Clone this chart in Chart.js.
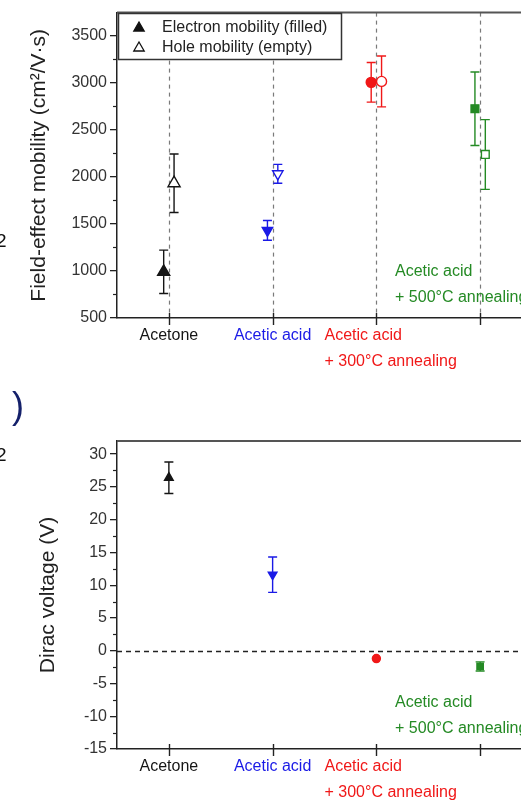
<!DOCTYPE html>
<html>
<head>
<meta charset="utf-8">
<script src="https://cdn.jsdelivr.net/npm/chart.js@4.4.1/dist/chart.umd.min.js"></script>
<style>
  html, body { margin: 0; padding: 0; background: #fff; overflow: hidden; }
  #wrap { position: relative; width: 521px; height: 803px; overflow: hidden; }
  canvas { position: absolute; left: 0; }
  #mobility { top: 0; }
  #dirac { top: 400px; }
  .edge { position: absolute; font-family: 'Liberation Sans', Arial, sans-serif; line-height: 1; }
</style>
</head>
<body>
<div id="wrap">
  <canvas id="mobility" width="545" height="375"></canvas>
  <canvas id="dirac" width="545" height="403"></canvas>
  <span class="edge" style="left:-4px; top:231px; font-size:19px; color:#111;">2</span>
  <span class="edge" style="left:-4px; top:445px; font-size:19px; color:#111;">2</span>
  <span class="edge" style="left:12px; top:388px; font-size:36px; color:#14206a;">)</span>
</div>
<script>
// categories along the x axis (one entry per line of the label)
const categories = [
    ['Acetone'],
    ['Acetic acid'],
    ['Acetic acid', '+ 300°C annealing'],
    ['Acetic acid', '+ 500°C annealing']
];
const categoryColors = ['#151515', '#1a1ae6', '#f01818', '#248a24'];

// field-effect mobility, cm2/V.s
const electronMobility = [990, 1430, 3000, 2720];
const electronErr = [230, 105, 210, 390];
const holeMobility = [1930, 2030, 3010, 2235];
const holeErr = [310, 100, 270, 370];

// dirac voltage, V
const diracVoltage = [26.4, 11.6, -1.2, -2.4];
const diracErr = [2.4, 2.7, 0, 0.7];

// tick labels
const mobilityTicks = [500, 1000, 1500, 2000, 2500, 3000, 3500];
const diracTicks = [-15, -10, -5, 0, 5, 10, 15, 20, 25, 30];

const FONT = "'Liberation Sans', Arial, sans-serif";
const markerStyles = ['triangle', 'triangle', 'circle', 'rect'];
const markerRotation = [0, 180, 0, 0];

// where each category label sits (x in axis units, dy from the x axis)
const labelPlace = [
    { x: 1, align: 'center', dy: 18 },
    { x: 2, align: 'center', dy: 18 },
    { x: 2.5, align: 'left', dy: 18 },
    { x: 3.18, align: 'left', dy: -46 }
];

Chart.defaults.font.family = FONT;
Chart.defaults.animation = false;

/**
 * Draws the extras: error bars, category ticks/labels, minor ticks,
 * dashed guides, top frame and the legend box
 */
const figurePlugin = {
    id: 'figure',
    beforeDatasetsDraw(chart, args, opts) {
        const { ctx, chartArea: area, scales: { x, y } } = chart;
        ctx.save();

        if (opts.vLines) {
            ctx.strokeStyle = '#7a7a7a';
            ctx.lineWidth = 1.2;
            ctx.setLineDash([4, 4]);
            categories.forEach((c, i) => {
                const px = Math.round(x.getPixelForValue(i + 1)) + 0.5;
                ctx.beginPath();
                ctx.moveTo(px, area.top);
                ctx.lineTo(px, area.bottom);
                ctx.stroke();
            });
        }

        if (opts.zeroLine) {
            const py = Math.round(y.getPixelForValue(0)) + 0.5;
            ctx.strokeStyle = '#222';
            ctx.lineWidth = 1.5;
            ctx.setLineDash([5, 4]);
            ctx.beginPath();
            ctx.moveTo(area.left, py);
            ctx.lineTo(area.right, py);
            ctx.stroke();
        }
        ctx.setLineDash([]);

        // error bars
        chart.data.datasets.forEach(ds => {
            if (!ds.errors) return;
            ds.data.forEach((pt, i) => {
                const err = ds.errors[i];
                if (!err) return;
                const px = x.getPixelForValue(pt.x);
                const top = y.getPixelForValue(pt.y + err);
                const bot = y.getPixelForValue(pt.y - err);
                ctx.strokeStyle = categoryColors[i];
                ctx.lineWidth = 1.4;
                ctx.beginPath();
                ctx.moveTo(px, top);
                ctx.lineTo(px, bot);
                ctx.moveTo(px - 4.5, top);
                ctx.lineTo(px + 4.5, top);
                ctx.moveTo(px - 4.5, bot);
                ctx.lineTo(px + 4.5, bot);
                ctx.stroke();
            });
        });
        ctx.restore();
    },
    afterDatasetsDraw(chart, args, opts) {
        const { ctx, chartArea: area, scales: { x, y } } = chart;
        ctx.save();

        // top frame
        ctx.strokeStyle = '#555';
        ctx.lineWidth = 2;
        ctx.beginPath();
        ctx.moveTo(area.left, area.top);
        ctx.lineTo(area.right, area.top);
        ctx.stroke();

        // minor ticks on y
        ctx.strokeStyle = '#222';
        ctx.lineWidth = 1.2;
        for (let v = y.min; v <= y.max; v += opts.minorStep) {
            if (Math.abs(v / opts.minorStep) % 2 !== 1) continue;
            const py = Math.round(y.getPixelForValue(v)) + 0.5;
            ctx.beginPath();
            ctx.moveTo(area.left - 4, py);
            ctx.lineTo(area.left, py);
            ctx.stroke();
        }

        // category ticks crossing the x axis
        ctx.lineWidth = 1.4;
        categories.forEach((c, i) => {
            const px = Math.round(x.getPixelForValue(i + 1)) + 0.5;
            ctx.beginPath();
            ctx.moveTo(px, area.bottom - 5);
            ctx.lineTo(px, area.bottom + 7);
            ctx.stroke();
        });

        // category labels
        ctx.font = '16px ' + FONT;
        ctx.textBaseline = 'middle';
        categories.forEach((lines, i) => {
            const place = labelPlace[i];
            ctx.fillStyle = categoryColors[i];
            ctx.textAlign = place.align;
            lines.forEach((line, k) => {
                ctx.fillText(line, x.getPixelForValue(place.x), area.bottom + place.dy + k * 26);
            });
        });

        // legend box
        if (opts.legend) {
            const bx = area.left + 1, by = 13, bw = 223, bh = 46;
            ctx.fillStyle = '#fff';
            ctx.fillRect(bx, by, bw, bh);
            ctx.strokeStyle = '#333';
            ctx.lineWidth = 1.5;
            ctx.strokeRect(bx + 0.5, by + 0.5, bw, bh);

            chart.data.datasets.forEach((ds, k) => {
                const cy = by + 15 + k * 20;
                const cx = bx + 21;
                const r = 6;
                ctx.beginPath();
                ctx.moveTo(cx, cy - r);
                ctx.lineTo(cx + r * 0.866, cy + r * 0.5);
                ctx.lineTo(cx - r * 0.866, cy + r * 0.5);
                ctx.closePath();
                ctx.lineWidth = 1.3;
                ctx.strokeStyle = '#111';
                ctx.fillStyle = ds.filled ? '#111' : '#fff';
                ctx.fill();
                ctx.stroke();

                ctx.fillStyle = '#222';
                ctx.textAlign = 'left';
                ctx.fillText(ds.label, bx + 44, cy);
            });
        }
        ctx.restore();
    }
};

function pointDataset(label, values, errors, offset, filled, radius) {
    return {
        label: label,
        data: values.map((v, i) => ({ x: i + 1 + offset, y: v })),
        errors: errors,
        filled: filled,
        showLine: false,
        pointStyle: markerStyles,
        rotation: markerRotation,
        pointRadius: radius,
        pointBorderWidth: 1.4,
        pointBorderColor: categoryColors,
        pointBackgroundColor: filled ? categoryColors : '#ffffff'
    };
}

function yScale(opts) {
    return {
        min: opts.min,
        max: opts.max,
        afterBuildTicks: s => { s.ticks = opts.ticks.map(v => ({ value: v })); },
        afterFit: s => { s.width = 117; },
        ticks: { font: { size: 16 }, color: '#333', padding: 3, callback: v => String(v) },
        grid: { drawOnChartArea: false, tickLength: 7, tickColor: '#222', lineWidth: 1.3 },
        border: { color: '#222', width: 1.5 },
        title: {
            display: true,
            text: opts.title,
            color: '#222',
            font: { size: 21 },
            padding: { top: opts.titlePad, bottom: 0 }
        }
    };
}

function xScale(height) {
    return {
        type: 'linear',
        min: 0.5,
        max: 4.5,
        afterFit: s => { s.height = height; },
        grid: { display: false },
        ticks: { display: false },
        border: { color: '#222', width: 1.5 }
    };
}

new Chart(document.getElementById('mobility'), {
    type: 'scatter',
    data: {
        datasets: [
            pointDataset('Electron mobility (filled)', electronMobility, electronErr, -0.05, true, [7, 6, 5, 5.5]),
            pointDataset('Hole mobility (empty)', holeMobility, holeErr, 0.05, false, [7, 6, 5, 5.5])
        ]
    },
    options: {
        responsive: false,
        events: [],
        layout: { padding: { top: 11, right: 13, left: 0, bottom: 0 } },
        plugins: {
            legend: { display: false },
            tooltip: { enabled: false },
            figure: { vLines: true, legend: true, minorStep: 250 }
        },
        scales: {
            x: xScale(57),
            y: yScale({ min: 500, max: 3740, ticks: mobilityTicks, title: 'Field-effect mobility (cm²/V·s)', titlePad: 27 })
        }
    },
    plugins: [figurePlugin]
});

new Chart(document.getElementById('dirac'), {
    type: 'scatter',
    data: {
        datasets: [
            pointDataset('Dirac voltage', diracVoltage, diracErr, 0, true, [5, 5, 4, 4.5])
        ]
    },
    options: {
        responsive: false,
        events: [],
        layout: { padding: { top: 41, right: 13, left: 0, bottom: 0 } },
        plugins: {
            legend: { display: false },
            tooltip: { enabled: false },
            figure: { zeroLine: true, legend: false, minorStep: 2.5 }
        },
        scales: {
            x: xScale(54),
            y: yScale({ min: -15, max: 32, ticks: diracTicks, title: 'Dirac voltage (V)', titlePad: 36 })
        }
    },
    plugins: [figurePlugin]
});
</script>
</body>
</html>
